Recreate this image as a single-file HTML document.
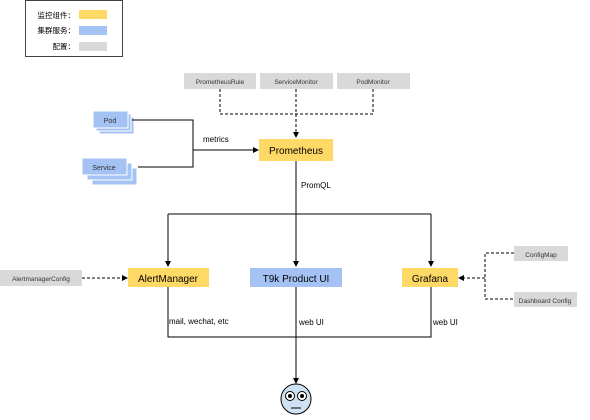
<!DOCTYPE html>
<html><head><meta charset="utf-8"><style>
body{margin:0;background:#fff;}
svg text{font-family:"Liberation Sans","Noto Sans CJK SC",sans-serif;}
</style></head><body>
<svg width="590" height="415" viewBox="0 0 590 415" xmlns="http://www.w3.org/2000/svg">
<defs>
<marker id="a" markerWidth="6" markerHeight="6" refX="5" refY="3" orient="auto" markerUnits="userSpaceOnUse"><path d="M0,0 L6,3 L0,6 z" fill="#000"/></marker>
</defs>
<rect x="25.5" y="0.5" width="97" height="56" fill="#fff" stroke="#444"/>
<text x="75" y="18" font-size="7.5" text-anchor="end">监控组件：</text>
<rect x="79" y="10" width="28" height="9" fill="#ffd966"/>
<text x="75" y="33" font-size="7.5" text-anchor="end">集群服务：</text>
<rect x="79" y="26" width="28" height="9" fill="#a4c2f4"/>
<text x="75" y="49" font-size="7.5" text-anchor="end">配置：</text>
<rect x="79" y="42" width="28" height="9" fill="#d9d9d9"/>
<rect x="184" y="73" width="72" height="16" fill="#d9d9d9"/>
<text x="220" y="84" font-size="6.5" text-anchor="middle" fill="#333">PrometheusRule</text>
<rect x="260" y="73" width="73" height="16" fill="#d9d9d9"/>
<text x="296" y="84" font-size="6.5" text-anchor="middle" fill="#333">ServiceMonitor</text>
<rect x="337" y="73" width="73" height="16" fill="#d9d9d9"/>
<text x="373" y="84" font-size="6.5" text-anchor="middle" fill="#333">PodMonitor</text>
<g stroke="#000" stroke-dasharray="3,2" fill="none">
<path d="M220,89 V114 H373 V89"/>
<path d="M296,89 V137" marker-end="url(#a)"/>
</g>
<rect x="99" y="117" width="35" height="17" fill="#a4c2f4" stroke="#fff"/>
<rect x="96" y="114" width="35" height="17" fill="#a4c2f4" stroke="#fff"/>
<rect x="93" y="111" width="35" height="17" fill="#a4c2f4" stroke="#fff"/>
<text x="110" y="123" font-size="7" text-anchor="middle" fill="#333">Pod</text>
<rect x="92" y="168" width="45" height="17" fill="#a4c2f4" stroke="#fff"/>
<rect x="87" y="163" width="45" height="17" fill="#a4c2f4" stroke="#fff"/>
<rect x="82" y="158" width="45" height="17" fill="#a4c2f4" stroke="#fff"/>
<text x="104" y="170" font-size="7" text-anchor="middle" fill="#333">Service</text>
<g stroke="#000" fill="none">
<path d="M132,120 H193 V167 H138"/>
<path d="M193,150 H258" marker-end="url(#a)"/>
</g>
<text x="203" y="142" font-size="8">metrics</text>
<rect x="259" y="139" width="74" height="22" fill="#ffd966"/>
<text x="296" y="154" font-size="10" text-anchor="middle">Prometheus</text>
<text x="301" y="188" font-size="8">PromQL</text>
<g stroke="#000" fill="none">
<path d="M296,161 V214"/>
<path d="M168,214 H431"/>
<path d="M168,214 V266" marker-end="url(#a)"/>
<path d="M296,214 V266" marker-end="url(#a)"/>
<path d="M431,214 V266" marker-end="url(#a)"/>
<path d="M168,287 V337 H431 V287"/>
<path d="M296,287 V383" marker-end="url(#a)"/>
</g>
<rect x="128" y="268" width="81" height="19" fill="#ffd966"/>
<text x="168" y="282" font-size="10" text-anchor="middle">AlertManager</text>
<rect x="250" y="268" width="92" height="19" fill="#a4c2f4"/>
<text x="296" y="282" font-size="10" text-anchor="middle">T9k Product UI</text>
<rect x="402" y="268" width="56" height="19" fill="#ffd966"/>
<text x="430" y="282" font-size="10" text-anchor="middle">Grafana</text>
<rect x="0" y="270" width="82" height="16" fill="#d9d9d9"/>
<text x="41" y="281" font-size="6.5" text-anchor="middle" fill="#333">AlertmanagerConfig</text>
<rect x="514" y="246" width="54" height="15" fill="#d9d9d9"/>
<text x="541" y="257" font-size="6.5" text-anchor="middle" fill="#333">ConfigMap</text>
<rect x="514" y="292" width="63" height="15" fill="#d9d9d9"/>
<text x="545" y="303" font-size="6.5" text-anchor="middle" fill="#333">Dashboard Config</text>
<g stroke="#000" stroke-dasharray="3,2" fill="none">
<path d="M82,278 H127" marker-end="url(#a)"/>
<path d="M514,253 H485 V299 H514"/>
<path d="M485,278 H459" marker-end="url(#a)"/>
</g>
<text x="169" y="324" font-size="8">mail, wechat, etc</text>
<text x="299" y="325" font-size="8">web UI</text>
<text x="433" y="325" font-size="8">web UI</text>
<ellipse cx="296" cy="399" rx="15" ry="15" fill="#cfe2f3" stroke="#000"/>
<circle cx="290" cy="396" r="4.5" fill="#fff" stroke="#000"/>
<circle cx="290" cy="396" r="2" fill="#000"/>
<circle cx="302" cy="396" r="4.5" fill="#fff" stroke="#000"/>
<circle cx="302" cy="396" r="2" fill="#000"/>
<path d="M291,408 H301" stroke="#000"/>
</svg>
</body></html>
